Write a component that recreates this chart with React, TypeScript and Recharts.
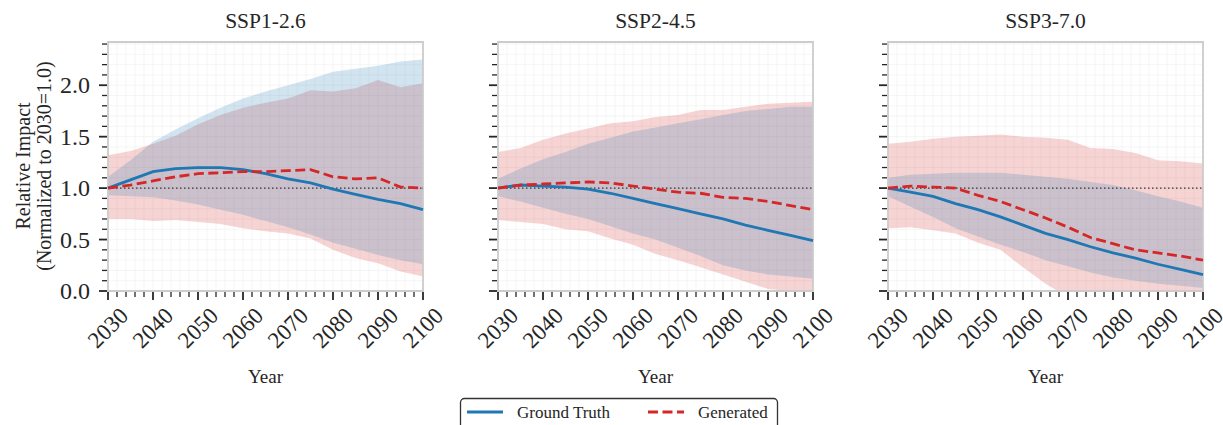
import React from 'react'
import {
  ComposedChart, Area, Line, XAxis, YAxis, CartesianGrid, ReferenceLine, ReferenceArea,
} from 'recharts'

const YEARS = [2030, 2035, 2040, 2045, 2050, 2055, 2060, 2065, 2070, 2075, 2080, 2085, 2090, 2095, 2100]

const X_TICKS = [
  2030, 2032, 2034, 2036, 2038, 2040, 2042, 2044, 2046, 2048, 2050, 2052, 2054, 2056, 2058, 2060, 2062, 2064,
  2066, 2068, 2070, 2072, 2074, 2076, 2078, 2080, 2082, 2084, 2086, 2088, 2090, 2092, 2094, 2096, 2098, 2100,
]
const Y_TICKS = [
  0, 0.1, 0.2, 0.3, 0.4, 0.5, 0.6, 0.7, 0.8, 0.9, 1.0, 1.1, 1.2, 1.3, 1.4, 1.5, 1.6, 1.7, 1.8, 1.9, 2.0,
  2.1, 2.2, 2.3, 2.4,
]

// SSP1-2.6
const gtMean1 = [1.00, 1.08, 1.16, 1.19, 1.20, 1.20, 1.18, 1.14, 1.09, 1.05, 0.99, 0.94, 0.89, 0.85, 0.79]
const gtLo1 = [0.93, 0.92, 0.91, 0.88, 0.84, 0.79, 0.74, 0.68, 0.62, 0.55, 0.47, 0.41, 0.35, 0.30, 0.26]
const gtHi1 = [1.11, 1.27, 1.45, 1.57, 1.68, 1.78, 1.87, 1.94, 2.00, 2.06, 2.13, 2.16, 2.19, 2.23, 2.25]
const genMean1 = [1.00, 1.03, 1.07, 1.11, 1.14, 1.15, 1.16, 1.16, 1.17, 1.18, 1.11, 1.09, 1.10, 1.01, 1.00]
const genLo1 = [0.70, 0.70, 0.68, 0.69, 0.67, 0.65, 0.61, 0.58, 0.56, 0.51, 0.40, 0.32, 0.27, 0.19, 0.14]
const genHi1 = [1.32, 1.36, 1.43, 1.51, 1.62, 1.71, 1.78, 1.83, 1.87, 1.95, 1.94, 1.97, 2.05, 1.98, 2.02]

// SSP2-4.5
const gtMean2 = [1.00, 1.03, 1.02, 1.01, 0.99, 0.95, 0.90, 0.85, 0.80, 0.75, 0.70, 0.64, 0.59, 0.54, 0.49]
const gtLo2 = [0.92, 0.87, 0.81, 0.75, 0.70, 0.63, 0.56, 0.50, 0.42, 0.34, 0.25, 0.20, 0.16, 0.14, 0.12]
const gtHi2 = [1.09, 1.19, 1.28, 1.35, 1.43, 1.49, 1.55, 1.59, 1.63, 1.67, 1.71, 1.75, 1.77, 1.79, 1.79]
const genMean2 = [1.00, 1.03, 1.04, 1.05, 1.06, 1.05, 1.02, 0.99, 0.96, 0.95, 0.91, 0.90, 0.87, 0.83, 0.79]
const genLo2 = [0.69, 0.67, 0.65, 0.60, 0.58, 0.51, 0.45, 0.36, 0.30, 0.23, 0.16, 0.09, 0.02, 0.00, 0.01]
const genHi2 = [1.35, 1.39, 1.47, 1.53, 1.58, 1.63, 1.65, 1.69, 1.71, 1.76, 1.76, 1.79, 1.82, 1.83, 1.84]

// SSP3-7.0
const gtMean3 = [1.00, 0.96, 0.92, 0.85, 0.79, 0.72, 0.64, 0.56, 0.50, 0.43, 0.37, 0.32, 0.26, 0.21, 0.16]
const gtLo3 = [0.92, 0.82, 0.72, 0.61, 0.53, 0.45, 0.38, 0.30, 0.24, 0.18, 0.13, 0.10, 0.07, 0.05, 0.03]
const gtHi3 = [1.10, 1.13, 1.14, 1.15, 1.15, 1.15, 1.13, 1.11, 1.09, 1.06, 1.03, 0.98, 0.92, 0.87, 0.81]
const genMean3 = [1.00, 1.02, 1.01, 1.00, 0.93, 0.87, 0.79, 0.71, 0.62, 0.52, 0.46, 0.40, 0.37, 0.34, 0.30]
const genLo3 = [0.61, 0.62, 0.59, 0.56, 0.47, 0.40, 0.23, 0.07, -0.06, -0.12, -0.15, -0.18, -0.20, -0.20, -0.20]
const genHi3 = [1.43, 1.45, 1.48, 1.50, 1.51, 1.52, 1.50, 1.49, 1.47, 1.39, 1.38, 1.34, 1.27, 1.26, 1.24]

const BLUE = '#1f77b4'
const RED = '#d62728'
const INK = '#262626'
const FONT = '"Liberation Serif", "DejaVu Serif", serif'

const build = (gt: number[], gtLo: number[], gtHi: number[], gen: number[], genLo: number[], genHi: number[]) =>
  YEARS.map((year, i) => ({
    year,
    gt: gt[i],
    gen: gen[i],
    gtBand: [gtLo[i], gtHi[i]],
    genBand: [genLo[i], genHi[i]],
  }))

const PANELS = [
  { title: 'SSP1-2.6', data: build(gtMean1, gtLo1, gtHi1, genMean1, genLo1, genHi1), left: 0, width: 460, yw: 108, labels: true },
  { title: 'SSP2-4.5', data: build(gtMean2, gtLo2, gtHi2, genMean2, genLo2, genHi2), left: 440, width: 410, yw: 58, labels: false },
  { title: 'SSP3-7.0', data: build(gtMean3, gtLo3, gtHi3, genMean3, genLo3, genHi3), left: 830, width: 413, yw: 58, labels: false },
]

const PLOT_W = 315
const TOP = 42
const BOTTOM = 291

const XTick = (props: any) => {
  const { x, y, payload } = props
  const major = payload.value % 10 === 0
  const cy = y + 37
  return (
    <g>
      <line x1={x} x2={x} y1={y + 1} y2={y + (major ? 9 : 6)} stroke={INK} strokeWidth={major ? 1.8 : 1.3} />
      {major && (
        <text x={x} y={cy} textAnchor="middle" dominantBaseline="central" transform={`rotate(-45 ${x} ${cy})`}
          fontSize={23} fontFamily={FONT} fill={INK}>
          {payload.value}
        </text>
      )}
    </g>
  )
}

const YTick = (props: any) => {
  const { x, y, payload, showLabel } = props
  const major = Math.round(payload.value * 10) % 5 === 0
  return (
    <g>
      <line x1={x - (major ? 9 : 6)} x2={x - 1} y1={y} y2={y} stroke={INK} strokeWidth={major ? 1.8 : 1.3} />
      {showLabel && major && (
        <text x={x - 18} y={y} textAnchor="end" dominantBaseline="central" fontSize={24} fontFamily={FONT} fill={INK}>
          {payload.value.toFixed(1)}
        </text>
      )}
    </g>
  )
}

function Panel({ p }: { p: typeof PANELS[number] }) {
  return (
    <div style={{ position: 'absolute', left: p.left, top: 0 }}>
      <ComposedChart
        width={p.width}
        height={425}
        data={p.data}
        margin={{ top: TOP, right: p.width - p.yw - PLOT_W, bottom: 425 - BOTTOM - 80, left: 0 }}
      >
        <CartesianGrid stroke="#f1f1f1" strokeWidth={0.7} />
        <XAxis dataKey="year" type="number" domain={[2030, 2100]} ticks={X_TICKS} interval={0}
          tick={<XTick />} tickSize={0} tickMargin={0} tickLine={false} axisLine={false} height={80} />
        <YAxis type="number" domain={[0, 2.42]} ticks={Y_TICKS} interval={0} allowDataOverflow
          tick={<YTick showLabel={p.labels} />} tickSize={0} tickMargin={0} tickLine={false} axisLine={false} width={p.yw} />
        <Area type="linear" dataKey="genBand" fill={RED} fillOpacity={0.2} stroke="none" isAnimationActive={false} />
        <Area type="linear" dataKey="gtBand" fill={BLUE} fillOpacity={0.2} stroke="none" isAnimationActive={false} />
        <ReferenceLine y={1} stroke="#333" strokeWidth={1.3} strokeDasharray="1.5 2.5" />
        <Line type="linear" dataKey="gt" stroke={BLUE} strokeWidth={2.8} dot={false} isAnimationActive={false} />
        <Line type="linear" dataKey="gen" stroke={RED} strokeWidth={2.8} strokeDasharray="10 4.5" dot={false} isAnimationActive={false} />
        <ReferenceArea x1={2030} x2={2100} y1={0} y2={2.42} fill="none" stroke="#cccccc" strokeWidth={1.8} ifOverflow="visible" />
      </ComposedChart>
    </div>
  )
}

export default function App() {
  return (
    <div style={{ position: 'absolute', left: 0, top: 0, width: 1223, height: 425, overflow: 'hidden', background: '#fff' }}>
      {PANELS.map((p) => <Panel key={p.title} p={p} />)}
      <svg width={1223} height={425} style={{ position: 'absolute', left: 0, top: 0, pointerEvents: 'none' }}>
        {PANELS.map((p) => {
          const cx = p.left + p.yw + PLOT_W / 2
          return (
            <g key={p.title}>
              <text x={cx} y={21} textAnchor="middle" dominantBaseline="central" fontSize={21.5} fontFamily={FONT} fill={INK}>
                {p.title}
              </text>
              <text x={cx} y={376} textAnchor="middle" dominantBaseline="central" fontSize={19} fontFamily={FONT} fill={INK}>
                Year
              </text>
            </g>
          )
        })}
        <text x={23} y={166} transform="rotate(-90 23 166)" textAnchor="middle" dominantBaseline="central"
          fontSize={20} fontFamily={FONT} fill={INK}>Relative Impact</text>
        <text x={44} y={166} transform="rotate(-90 44 166)" textAnchor="middle" dominantBaseline="central"
          fontSize={20} fontFamily={FONT} fill={INK}>(Normalized to 2030=1.0)</text>
        <rect x={460.5} y={398.5} width={317} height={34} rx={4} fill="#fff" stroke="#333" strokeWidth={1.3} />
        <line x1={467} x2={503} y1={412} y2={412} stroke={BLUE} strokeWidth={2.8} />
        <text x={517} y={412} dominantBaseline="central" fontSize={17} fontFamily={FONT} fill={INK}>Ground Truth</text>
        <line x1={648} x2={684} y1={412} y2={412} stroke={RED} strokeWidth={2.8} strokeDasharray="10 4.5" />
        <text x={698} y={412} dominantBaseline="central" fontSize={17} fontFamily={FONT} fill={INK}>Generated</text>
      </svg>
    </div>
  )
}
